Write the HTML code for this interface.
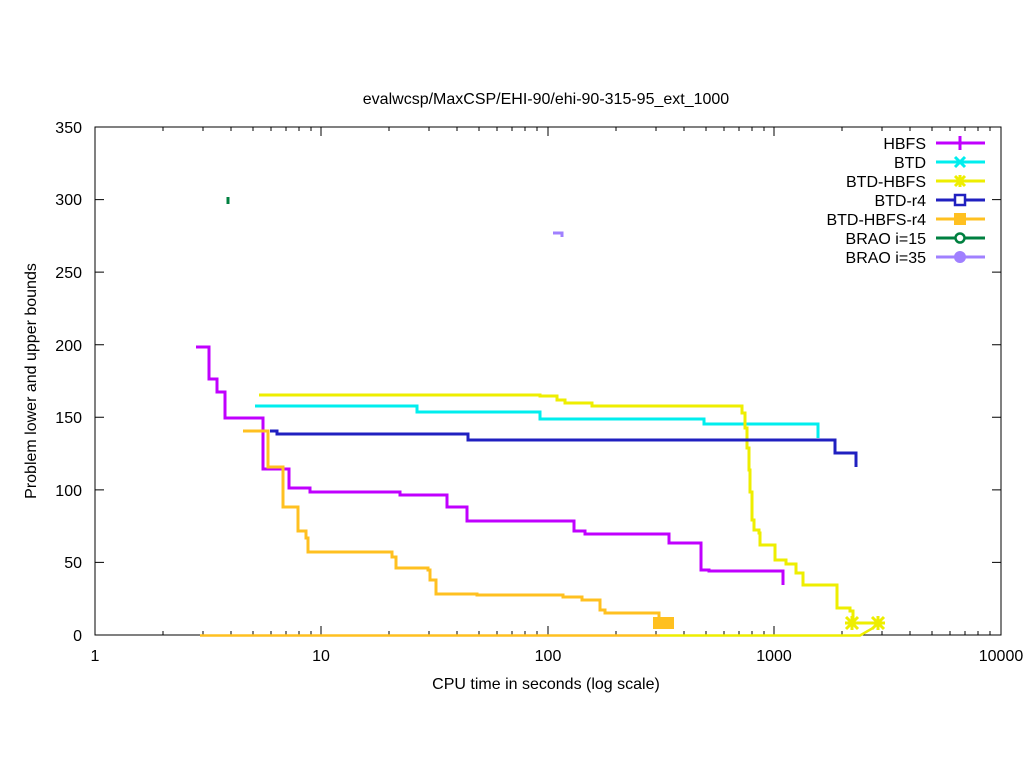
<!DOCTYPE html>
<html><head><meta charset="utf-8"><style>
html,body{margin:0;padding:0;background:#fff;}
svg{display:block;font-family:"Liberation Sans",sans-serif;}
</style></head><body>
<svg width="1024" height="768" viewBox="0 0 1024 768" xmlns="http://www.w3.org/2000/svg">
<rect width="1024" height="768" fill="#fff"/>
<text x="546" y="104" font-size="16" text-anchor="middle">evalwcsp/MaxCSP/EHI-90/ehi-90-315-95_ext_1000</text>
<text x="546" y="689" font-size="16" text-anchor="middle">CPU time in seconds (log scale)</text>
<text transform="translate(36,381) rotate(-90)" font-size="16" text-anchor="middle">Problem lower and upper bounds</text>
<g font-size="16" text-anchor="end">
<text x="82" y="641">0</text><text x="82" y="568">50</text><text x="82" y="496">100</text><text x="82" y="423">150</text><text x="82" y="351">200</text><text x="82" y="278">250</text><text x="82" y="205">300</text><text x="82" y="133">350</text>
</g>
<g font-size="16" text-anchor="middle">
<text x="95" y="661">1</text><text x="321" y="661">10</text><text x="548" y="661">100</text><text x="774" y="661">1000</text><text x="1001" y="661">10000</text>
</g>
<g stroke="#000" stroke-width="1" fill="none">
<path d="M95 635H104M1001 635H992M95 562.4H104M1001 562.4H992M95 489.9H104M1001 489.9H992M95 417.3H104M1001 417.3H992M95 344.7H104M1001 344.7H992M95 272.1H104M1001 272.1H992M95 199.6H104M1001 199.6H992"/>
<path d="M95 635V626M95 127V136M321 635V626M321 127V136M548 635V626M548 127V136M774 635V626M774 127V136"/>
<path d="M163 635v-4M203 635v-4M231 635v-4M253 635v-4M271 635v-4M286 635v-4M299 635v-4M311 635v-4M163 127v4M203 127v4M231 127v4M253 127v4M271 127v4M286 127v4M299 127v4M311 127v4
M389 635v-4M429 635v-4M457 635v-4M479 635v-4M497 635v-4M512 635v-4M525 635v-4M537 635v-4M389 127v4M429 127v4M457 127v4M479 127v4M497 127v4M512 127v4M525 127v4M537 127v4
M616 635v-4M656 635v-4M684 635v-4M706 635v-4M724 635v-4M739 635v-4M752 635v-4M764 635v-4M616 127v4M656 127v4M684 127v4M706 127v4M724 127v4M739 127v4M752 127v4M764 127v4
M842 635v-4M882 635v-4M910 635v-4M932 635v-4M950 635v-4M965 635v-4M978 635v-4M990 635v-4M842 127v4M882 127v4M910 127v4M932 127v4M950 127v4M965 127v4M978 127v4M990 127v4"/>
<rect x="95" y="127" width="906" height="508"/>
</g>
<g fill="none" stroke-width="3" stroke-linejoin="miter">
<path stroke="#ffc020" stroke-width="2.5" d="M200 635.5H660"/>
<path stroke="#eeee00" stroke-width="2.5" d="M660 635.5H860L873 628L878 623"/>
<path stroke="#000" stroke-width="1" d="M192 635H200"/>
<path stroke="#c000ff" d="M196 347H209V379H217V392H225V418H263V469H289V488H310V492H400V495H447V507H467V521H574V531H585V534H669V543H701V570H709V571H783V585"/>
<path stroke="#00eeee" d="M255 406H417V412H540V419H704V424H818V438"/>
<path stroke="#eeee00" d="M259 395H540V396H557V400H565V403H592V406H742V413H745V428H747V448H749V470H750V492H752V520H754V530H759V533H760V545H775V560H786V564H796V573H803V585H837V608H850V611H853V623H878"/>
<path stroke="#2020c0" d="M270 431H277V434H468V440H835V453H856V467"/>
<path stroke="#ffc020" d="M243 431H268V467H283V507H298V531H306V538H308V552H392V557H396V568H428V570H430V580H436V594H477V595H563V597H582V600H600V610H605V613H659V623"/>
<path stroke="#008040" d="M228 197V204"/>
<path stroke="#a080ff" d="M553 233H562V237"/>
</g>
<rect x="653" y="617" width="21" height="12" fill="#ffc020"/>
<g stroke="#eeee00" stroke-width="3">
<path d="M846 617l12 12M858 617l-12 12M852 616v14M845 623h14"/>
<path d="M872 617l12 12M884 617l-12 12M878 616v14M871 623h14"/>
</g>
<g font-size="16" text-anchor="end">
<text x="926" y="149">HBFS</text><text x="926" y="168">BTD</text><text x="926" y="187">BTD-HBFS</text><text x="926" y="206">BTD-r4</text><text x="926" y="225">BTD-HBFS-r4</text><text x="926" y="244">BRAO i=15</text><text x="926" y="263">BRAO i=35</text>
</g>
<g stroke-width="3" fill="none">
<path stroke="#c000ff" d="M936 143H985M960 136V150"/>
<path stroke="#00eeee" d="M936 162H985M955 157l10 10M965 157l-10 10"/>
<path stroke="#eeee00" d="M936 181H985M955 176l10 10M965 176l-10 10M960 175v12"/>
<path stroke="#2020c0" d="M936 200H985"/><rect x="955" y="195" width="10" height="10" stroke="#2020c0" stroke-width="2.5" fill="#fff"/>
<path stroke="#ffc020" d="M936 219H985"/><rect x="954" y="213" width="12" height="12" fill="#ffc020"/>
<path stroke="#008040" d="M936 238H985"/><circle cx="960" cy="238" r="4.5" stroke="#008040" stroke-width="2.5" fill="#fff"/>
<path stroke="#a080ff" d="M936 257H985"/><circle cx="960" cy="257" r="6" fill="#a080ff"/>
</g>
</svg>
</body></html>
